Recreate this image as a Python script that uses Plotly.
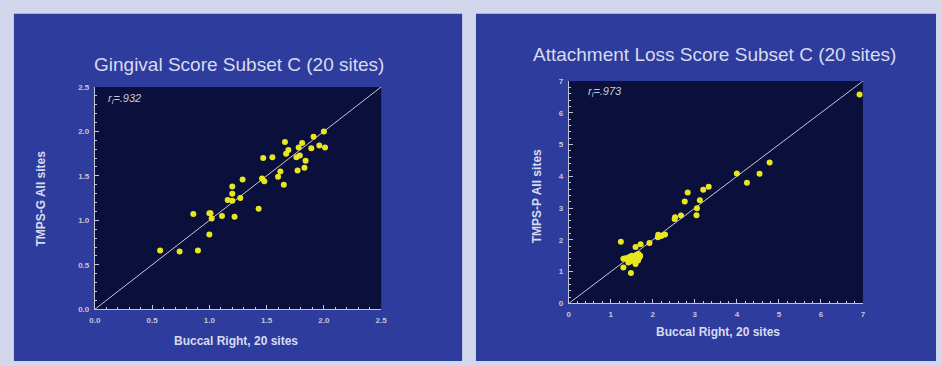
import plotly.graph_objects as go

W, H = 942, 366

# Gingival score: buccal right (20 sites) vs TMPS-G (all sites)
ging_x = [0.57, 0.74, 0.90, 0.86, 1.00, 1.01, 1.00, 1.02, 1.11, 1.22,
          1.16, 1.20, 1.20, 1.20, 1.27, 1.29, 1.43, 1.46, 1.48, 1.47,
          1.55, 1.60, 1.62, 1.65, 1.66, 1.67, 1.69, 1.76, 1.77, 1.78,
          1.79, 1.81, 1.83, 1.84, 1.89, 1.91, 1.96, 2.00, 2.01]
ging_y = [0.66, 0.65, 0.66, 1.07, 1.08, 1.08, 0.84, 1.02, 1.05, 1.04,
          1.23, 1.22, 1.30, 1.38, 1.25, 1.46, 1.13, 1.47, 1.44, 1.70,
          1.71, 1.49, 1.55, 1.40, 1.88, 1.75, 1.79, 1.71, 1.56, 1.82,
          1.73, 1.87, 1.59, 1.67, 1.81, 1.94, 1.84, 2.00, 1.82]

# Attachment loss score: buccal right (20 sites) vs TMPS-P (all sites)
att_x = [6.92, 4.78, 4.54, 4.24, 4.00, 3.33, 3.20, 3.12, 3.05, 3.04,
         2.83, 2.76, 2.67, 2.52, 2.53, 2.29, 2.21, 2.13, 2.12, 2.17,
         1.92, 1.71, 1.59, 1.24, 1.30, 1.30, 1.48, 1.59,
         1.35, 1.40, 1.44, 1.47, 1.50, 1.54, 1.58, 1.61, 1.63, 1.66,
         1.68, 1.70, 1.42, 1.52, 1.65]
att_y = [6.58, 4.44, 4.08, 3.80, 4.09, 3.67, 3.58, 3.25, 3.00, 2.78,
         3.49, 3.21, 2.77, 2.66, 2.71, 2.17, 2.13, 2.16, 2.08, 2.12,
         1.90, 1.86, 1.78, 1.94, 1.41, 1.13, 0.96, 1.24,
         1.42, 1.38, 1.46, 1.33, 1.50, 1.43, 1.48, 1.53, 1.40, 1.56,
         1.45, 1.50, 1.29, 1.36, 1.35]

ging_ticks = [0.0, 0.5, 1.0, 1.5, 2.0, 2.5]
ging_ticktext = ["0.0", "0.5", "1.0", "1.5", "2.0", "2.5"]
att_ticks = [0, 1, 2, 3, 4, 5, 6, 7]

titles = ["Gingival Score Subset C (20 sites)",
          "Attachment Loss Score Subset C (20 sites)"]
x_titles = ["Buccal Right, 20 sites", "Buccal Right, 20 sites"]
y_titles = ["TMPS-G All sites", "TMPS-P All sites"]
r_labels = ["<i>r<sub>i</sub>=.932</i>", "<i>r<sub>i</sub>=.973</i>"]

PAGE_BG = "#d3d7ec"
PANEL_BG = "#2e3c9e"
PLOT_BG = "#0b0f3b"
AXIS_COL = "#c4c6d6"
TEXT_COL = "#d8dbee"
DOT_COL = "#e8e61e"
FONT = "Liberation Sans, Arial, sans-serif"


def px_x(p):
    return p / W


def px_y(p):
    return 1 - p / H


fig = go.Figure()

# identity lines
fig.add_trace(go.Scatter(x=[ging_ticks[0], ging_ticks[-1]], y=[ging_ticks[0], ging_ticks[-1]],
                         mode="lines", line=dict(color="#c8c8cc", width=1),
                         xaxis="x", yaxis="y", hoverinfo="skip", showlegend=False))
fig.add_trace(go.Scatter(x=[att_ticks[0], att_ticks[-1]], y=[att_ticks[0], att_ticks[-1]],
                         mode="lines", line=dict(color="#c8c8cc", width=1),
                         xaxis="x2", yaxis="y2", hoverinfo="skip", showlegend=False))

# scatter points
fig.add_trace(go.Scatter(x=ging_x, y=ging_y, mode="markers",
                         marker=dict(color=DOT_COL, size=6, line=dict(width=0)),
                         xaxis="x", yaxis="y", showlegend=False))
fig.add_trace(go.Scatter(x=att_x, y=att_y, mode="markers",
                         marker=dict(color=DOT_COL, size=6, line=dict(width=0)),
                         xaxis="x2", yaxis="y2", showlegend=False))

tickfont = dict(family=FONT, size=8, color=AXIS_COL, weight="bold")


def axis(domain, rng, tickvals, ticktext, minor_step, anchor):
    return dict(domain=domain, range=rng, tickvals=tickvals, ticktext=ticktext,
                showgrid=False, zeroline=False, showline=True, linecolor=AXIS_COL,
                linewidth=1, ticks="inside", ticklen=4, tickcolor=AXIS_COL,
                tickwidth=1, tickfont=tickfont, ticklabelstandoff=3,
                minor=dict(dtick=minor_step, ticks="inside", ticklen=2.5,
                           tickcolor=AXIS_COL, tickwidth=1, showgrid=False),
                anchor=anchor, fixedrange=True)


fig.update_layout(
    width=W, height=H,
    margin=dict(l=0, r=0, t=0, b=0),
    paper_bgcolor=PAGE_BG,
    plot_bgcolor=PLOT_BG,
    xaxis=axis([px_x(90), px_x(380)], [0, 2.5], ging_ticks, ging_ticktext, 0.1, "y"),
    yaxis=axis([px_y(313), px_y(85)], [0, 2.5], ging_ticks, ging_ticktext, 0.1, "x"),
    xaxis2=axis([px_x(570), px_x(868)], [0, 7], att_ticks, [str(v) for v in att_ticks], 0.2, "y2"),
    yaxis2=axis([px_y(307), px_y(79)], [0, 7], att_ticks, [str(v) for v in att_ticks], 0.2, "x2"),
    shapes=[
        # slide panels
        dict(type="rect", xref="paper", yref="paper", layer="below",
             x0=px_x(8), x1=px_x(462), y0=0, y1=px_y(10),
             fillcolor=PANEL_BG, line=dict(width=0)),
        dict(type="rect", xref="paper", yref="paper", layer="below",
             x0=px_x(476), x1=1, y0=0, y1=px_y(10),
             fillcolor=PANEL_BG, line=dict(width=0)),
        # dark plotting areas
        dict(type="rect", xref="x domain", yref="y domain", layer="below",
             x0=0, x1=1, y0=0, y1=1, fillcolor=PLOT_BG, line=dict(width=0)),
        dict(type="rect", xref="x2 domain", yref="y2 domain", layer="below",
             x0=0, x1=1, y0=0, y1=1, fillcolor=PLOT_BG, line=dict(width=0)),
    ],
)

ann = []
title_pos = [(236, 62), (718, 52)]
xt_pos = [(233, 345), (721, 336)]
yt_pos = [(36, 200), (538, 197)]
r_pos = [(101, 97), (587, 90)]
for i in range(2):
    ann.append(dict(text=titles[i], x=px_x(title_pos[i][0]), y=px_y(title_pos[i][1]),
                    xref="paper", yref="paper", showarrow=False,
                    xanchor="center", yanchor="middle",
                    font=dict(family=FONT, size=19, color=TEXT_COL)))
    ann.append(dict(text="<b>" + x_titles[i] + "</b>", x=px_x(xt_pos[i][0]), y=px_y(xt_pos[i][1]),
                    xref="paper", yref="paper", showarrow=False,
                    xanchor="center", yanchor="middle",
                    font=dict(family=FONT, size=12, color=TEXT_COL)))
    ann.append(dict(text="<b>" + y_titles[i] + "</b>", x=px_x(yt_pos[i][0]), y=px_y(yt_pos[i][1]),
                    xref="paper", yref="paper", showarrow=False, textangle=-90,
                    xanchor="center", yanchor="middle",
                    font=dict(family=FONT, size=12, color=TEXT_COL)))
    ann.append(dict(text=r_labels[i], x=px_x(r_pos[i][0]), y=px_y(r_pos[i][1]),
                    xref="paper", yref="paper", showarrow=False,
                    xanchor="left", yanchor="middle",
                    font=dict(family=FONT, size=11, color="#c8cadc")))
fig.update_layout(annotations=ann)

fig.write_html("out.html", config={"displayModeBar": False})
